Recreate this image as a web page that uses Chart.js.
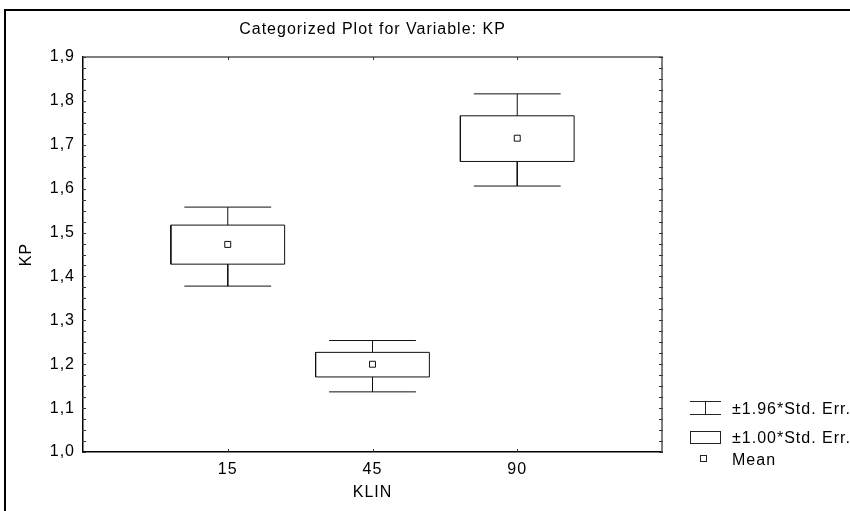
<!DOCTYPE html>
<html>
<head>
<meta charset="utf-8">
<script src="https://cdn.jsdelivr.net/npm/chart.js@4/dist/chart.umd.min.js"></script>
<style>
  html, body { margin: 0; padding: 0; background: #fff; }
  #wrap { width: 850px; height: 511px; position: relative; }
</style>
</head>
<body>
<div id="wrap"><canvas id="c" width="850" height="511"></canvas></div>
<script>
// ---- data ----
const categories = ['15', '45', '90'];
const means      = [1.473, 1.200, 1.715];
const seLow      = [1.428, 1.171, 1.662];   // mean - 1.00*SE
const seHigh     = [1.517, 1.227, 1.766];   // mean + 1.00*SE
const ciLow      = [1.378, 1.137, 1.606];   // mean - 1.96*SE
const ciHigh     = [1.558, 1.254, 1.816];   // mean + 1.96*SE
const yTickLabels = ['1,0','1,1','1,2','1,3','1,4','1,5','1,6','1,7','1,8','1,9'];
const legendLabels = ['\u00b11.96*Std. Err.', '\u00b11.00*Std. Err.', 'Mean'];
const chartTitle = 'Categorized Plot for Variable: KP';
const xTitle = 'KLIN';
const yTitle = 'KP';

// ---- build datasets ----
const BOX_HALF = 0.393, CAP_HALF = 0.3;
const boxPts = [], whiskerPts = [], meanPts = [];
categories.forEach((c, i) => {
  const x = i + 1;
  boxPts.push({x: x - BOX_HALF, y: seLow[i]}, {x: x + BOX_HALF, y: seLow[i]},
              {x: x + BOX_HALF, y: seHigh[i]}, {x: x - BOX_HALF, y: seHigh[i]},
              {x: x - BOX_HALF, y: seLow[i]}, {x: x, y: null});
  whiskerPts.push({x: x, y: seHigh[i]}, {x: x, y: ciHigh[i]}, {x: x, y: null},
                  {x: x - CAP_HALF, y: ciHigh[i]}, {x: x + CAP_HALF, y: ciHigh[i]}, {x: x, y: null},
                  {x: x, y: seLow[i]}, {x: x, y: ciLow[i]}, {x: x, y: null},
                  {x: x - CAP_HALF, y: ciLow[i]}, {x: x + CAP_HALF, y: ciLow[i]}, {x: x, y: null});
  meanPts.push({x: x, y: means[i]});
});

const FONT = {family: "'Liberation Sans', Arial, sans-serif", size: 16, weight: 'normal'};

const decor = {
  id: 'decor',
  beforeDraw(chart) {
    const ctx = chart.ctx;
    ctx.letterSpacing = '1px';
    ctx.save();
    ctx.fillStyle = '#000';
    ctx.fillRect(4, 9, 846, 2);
    ctx.fillRect(4, 9, 2, 502);
    ctx.restore();
  },
  afterDraw(chart) {
    const ctx = chart.ctx;
    const a = chart.chartArea;
    const ys = chart.scales.y, xs = chart.scales.x;
    ctx.save();
    // top & right frame (grey)
    ctx.strokeStyle = '#555';
    ctx.lineWidth = 1.5;
    ctx.beginPath();
    ctx.moveTo(a.left, a.top); ctx.lineTo(a.right, a.top); ctx.lineTo(a.right, a.bottom);
    ctx.stroke();
    // minor/major ticks, inward
    ctx.lineWidth = 1;
    ctx.strokeStyle = '#333';
    ctx.beginPath();
    for (let k = 0; k <= 36; k++) {
      const y = Math.round(ys.getPixelForValue(1 + k * 0.025)) + 0.5;
      ctx.moveTo(a.left - 1, y); ctx.lineTo(a.left + 3, y);
      ctx.moveTo(a.right - 3, y); ctx.lineTo(a.right + 1, y);
    }
    categories.forEach((c, i) => {
      const x = Math.round(xs.getPixelForValue(i + 1)) + 0.5;
      ctx.moveTo(x, a.top); ctx.lineTo(x, a.top + 3);
      ctx.moveTo(x, a.bottom); ctx.lineTo(x, a.bottom - 3);
    });
    ctx.stroke();

    // legend
    const lx = a.right + 28, lx2 = lx + 31;
    const y1 = a.bottom - 44, y2 = a.bottom - 14, y3 = a.bottom + 6.5;
    ctx.strokeStyle = '#222';
    ctx.lineWidth = 1;
    ctx.beginPath();
    ctx.moveTo(lx, y1 - 6.5); ctx.lineTo(lx2, y1 - 6.5);
    ctx.moveTo(lx, y1 + 6.5); ctx.lineTo(lx2, y1 + 6.5);
    ctx.moveTo((lx + lx2) / 2, y1 - 6.5); ctx.lineTo((lx + lx2) / 2, y1 + 6.5);
    ctx.stroke();
    ctx.strokeRect(lx + 0.5, y2 - 6.5, 30, 12);
    ctx.fillStyle = '#fff';
    ctx.fillRect(lx + 10.5, y3 - 3, 6, 6);
    ctx.strokeRect(lx + 10.5, y3 - 3, 6, 6);

    ctx.fillStyle = '#000';
    ctx.font = "16px 'Liberation Sans', Arial, sans-serif";
    ctx.textBaseline = 'middle';
    ctx.textAlign = 'left';
    ctx.fillText(legendLabels[0], lx + 42, y1 + 1.5);
    ctx.fillText(legendLabels[1], lx + 42, y2 + 0.5);
    ctx.fillText(legendLabels[2], lx + 42, y3 + 2);
    ctx.restore();
  }
};

new Chart(document.getElementById('c'), {
  type: 'scatter',
  data: {
    datasets: [
      { label: 'box', data: boxPts, showLine: true, spanGaps: false, borderColor: '#111',
        borderWidth: 1, pointRadius: 0, fill: false, tension: 0 },
      { label: 'whisker', data: whiskerPts, showLine: true, spanGaps: false, borderColor: '#111',
        borderWidth: 1, pointRadius: 0, fill: false, tension: 0 },
      { label: 'Mean', data: meanPts, showLine: false, pointStyle: 'rect', pointRadius: 4.2,
        pointBorderWidth: 1, pointBackgroundColor: '#fff', pointBorderColor: '#111' }
    ]
  },
  options: {
    responsive: false,
    animation: false,
    events: [],
    layout: { padding: { left: 5, top: 10, right: 188, bottom: 0 } },
    plugins: {
      legend: { display: false },
      tooltip: { enabled: false },
      title: {
        display: true, text: chartTitle, fullSize: false, color: '#000',
        font: FONT, padding: { top: 10, bottom: 17.8 }
      }
    },
    scales: {
      x: {
        type: 'linear', min: 0, max: 4,
        afterFit: s => { s.height = 59; },
        afterBuildTicks: s => { s.ticks = categories.map((c, i) => ({ value: i + 1 })); },
        ticks: { callback: (v) => categories[v - 1], color: '#000', font: FONT, padding: 8, maxRotation: 0 },
        grid: { display: false, drawTicks: false, tickLength: 0 },
        border: { display: true, color: '#000', width: 1.5 },
        title: { display: true, text: xTitle, color: '#000', font: FONT, padding: { top: 0, bottom: 8.6 } }
      },
      y: {
        type: 'linear', min: 1.0, max: 1.9,
        afterFit: s => { s.width = 78; },
        afterBuildTicks: s => { s.ticks = yTickLabels.map((t, i) => ({ value: 1 + i * 0.1 })); },
        ticks: { callback: (v, i) => yTickLabels[i], color: '#000', font: FONT, padding: 8 },
        grid: { display: false, drawTicks: false, tickLength: 0 },
        border: { display: true, color: '#000', width: 1.5 },
        title: { display: true, text: yTitle, color: '#000', font: FONT, padding: { top: 11.6, bottom: 0 } }
      }
    }
  },
  plugins: [decor]
});
</script>
</body>
</html>
